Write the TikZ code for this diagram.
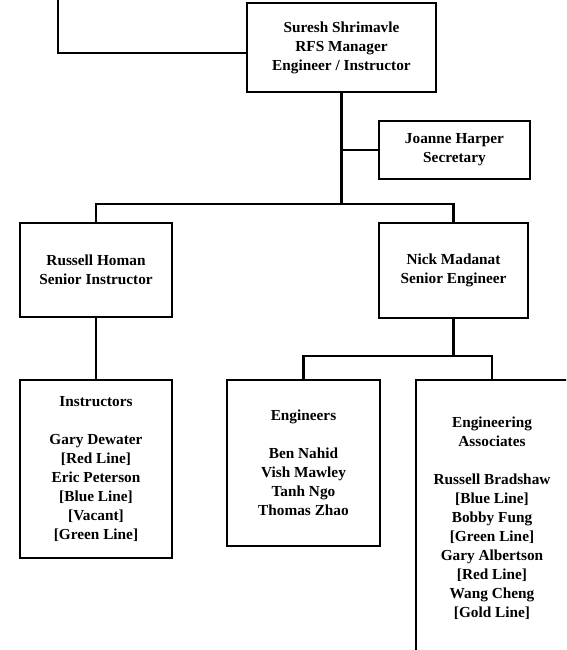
\documentclass[tikz,border=0pt]{standalone}
\usepackage{fontspec}
\setmainfont{Liberation Serif}
\begin{document}
\begin{tikzpicture}[x=1pt,y=-1pt,
  box/.style={draw,line width=2.1pt,inner sep=0pt,align=center,
    font=\bfseries\fontsize{15.3}{19}\selectfont},
  conn/.style={line width=2.1pt}]
\useasboundingbox (0,0) rectangle (566,650);
\clip (0,0) rectangle (566,650);
\node[box,minimum width=189pt,minimum height=89pt] (mgr) at (341.5,47.5)
  {Suresh Shrimavle\\RFS Manager\\Engineer / Instructor};
\node[box,minimum width=151pt,minimum height=58pt] (sec) at (454.5,150)
  {Joanne Harper\\Secretary};
\node[box,minimum width=152pt,minimum height=94pt] (rh) at (96,270)
  {Russell Homan\\Senior Instructor};
\node[box,minimum width=149pt,minimum height=95pt] (nm) at (453.5,270.5)
  {Nick Madanat\\Senior Engineer};
\node[box,minimum width=152pt,minimum height=178pt] (inst) at (96,469)
  {Instructors\\[19pt]Gary Dewater\\{[Red Line]}\\Eric Peterson\\{[Blue Line]}\\{[Vacant]}\\{[Green Line]}};
\node[box,minimum width=153pt,minimum height=166pt] (eng) at (303.5,463)
  {Engineers\\[19pt]Ben Nahid\\Vish Mawley\\Tanh Ngo\\Thomas Zhao};
\node[box,minimum width=152pt,minimum height=276pt] (assoc) at (492,518)
  {Engineering\\Associates\\[19pt]Russell Bradshaw\\{[Blue Line]}\\Bobby Fung\\{[Green Line]}\\Gary Albertson\\{[Red Line]}\\Wang Cheng\\{[Gold Line]}};
\coordinate (topend) at (58,-5);
\coordinate (bar) at (341.5,204);
\coordinate (nmbar) at (453.5,356);
\draw[conn] (topend) |- ([yshift=-5.5pt]mgr.west);
\draw[conn] (mgr.south) -- (bar);
\draw[conn] (sec.west) -- (sec.west -| mgr.south);
\draw[conn] (rh.north) |- (bar) -| (nm.north);
\draw[conn] (rh.south) -- (inst.north);
\draw[conn] (nm.south) -- (nmbar);
\draw[conn] (eng.north) |- (nmbar) -| (assoc.north);
\end{tikzpicture}
\end{document}
